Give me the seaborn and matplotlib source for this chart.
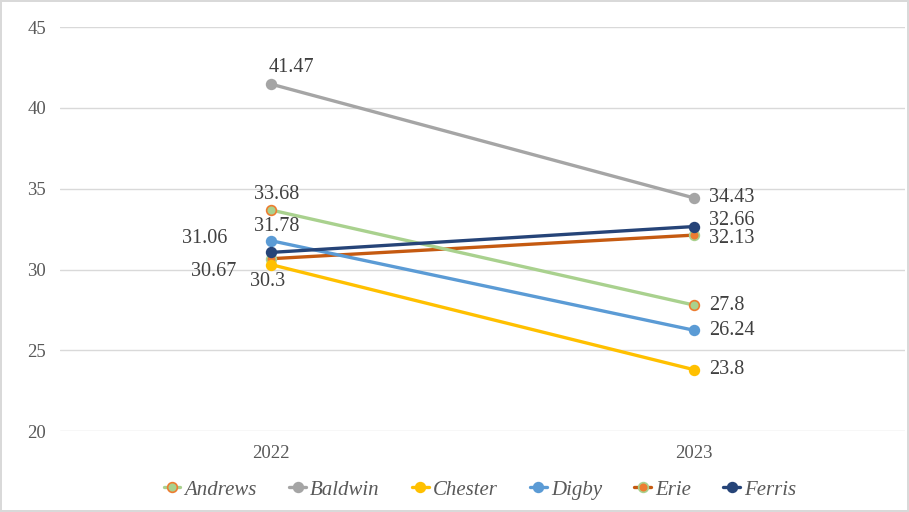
import numpy as np
import pandas as pd
import seaborn as sns
import matplotlib.pyplot as plt
from matplotlib.lines import Line2D

years = ["2022", "2023"]
teams = ["Andrews", "Baldwin", "Chester", "Digby", "Erie", "Ferris"]
andrews = [33.68, 27.8]
baldwin = [41.47, 34.43]
chester = [30.3, 23.8]
digby = [31.78, 26.24]
erie = [30.67, 32.13]
ferris = [31.06, 32.66]

line_colors = {"Andrews": "#A9D18E", "Baldwin": "#A5A5A5", "Chester": "#FFC000",
               "Digby": "#5B9BD5", "Erie": "#C55A11", "Ferris": "#264478"}
face_colors = {"Andrews": "#A9D18E", "Baldwin": "#A5A5A5", "Chester": "#FFC000",
               "Digby": "#5B9BD5", "Erie": "#ED7D31", "Ferris": "#264478"}
edge_colors = {"Andrews": "#ED7D31", "Baldwin": "#A5A5A5", "Chester": "#FFC000",
               "Digby": "#5B9BD5", "Erie": "#A9D18E", "Ferris": "#264478"}

df = pd.DataFrame({
    "year": years * 6,
    "team": np.repeat(teams, 2),
    "value": andrews + baldwin + chester + digby + erie + ferris,
})

# label offsets in pixels (2022 point, 2023 point)
offsets = {
    "Andrews": [(5, 16, "center"), (15, 0, "left")],
    "Baldwin": [(-3, 17, "left"), (15, 0, "left")],
    "Chester": [(-4, -17, "center"), (15, 0, "left")],
    "Digby": [(5, 14, "center"), (15, 0, "left")],
    "Erie": [(-58, -13, "center"), (15, -3, "left")],
    "Ferris": [(-67, 14, "center"), (15, 6, "left")],
}

sns.set_style("white")
plt.rcParams["font.family"] = ["Liberation Serif", "DejaVu Serif"]

fig = plt.figure(figsize=(9.09, 5.12), dpi=100)
fig.patch.set_edgecolor("#D9D9D9")
fig.patch.set_linewidth(1.5)
ax = fig.add_axes([0.066, 0.158, 0.93, 0.789])

ax.yaxis.grid(True, color="#D9D9D9", linewidth=1)
ax.set_axisbelow(True)

order = ["Erie", "Andrews", "Chester", "Digby", "Ferris", "Baldwin"]
for t in order:
    sub = df[df["team"] == t]
    sns.lineplot(data=sub, x="year", y="value", ax=ax, color=line_colors[t],
                 linewidth=2.4, marker="o", markersize=7,
                 markerfacecolor=face_colors[t], markeredgecolor=edge_colors[t],
                 markeredgewidth=1.2, legend=False)
    for i, (x, v) in enumerate(zip(sub["year"], sub["value"])):
        dx, dy, ha = offsets[t][i]
        ax.annotate(f"{v:g}", (i, v), xytext=(dx, dy), textcoords="offset pixels",
                    ha=ha, va="center", fontsize=14.5, color="#404040")

ax.set_xlim(-0.5, 1.5)
ax.set_ylim(20, 45)
ax.set_yticks([20, 25, 30, 35, 40, 45])
ax.set_xticks([0, 1])
ax.set_xticklabels(years)
ax.set_xlabel("")
ax.set_ylabel("")
ax.tick_params(axis="both", length=0, labelsize=13.5, labelcolor="#595959")
ax.tick_params(axis="y", pad=10)
ax.tick_params(axis="x", pad=10)
for s in ax.spines.values():
    s.set_visible(False)

handles = [Line2D([0], [0], color=line_colors[t], linewidth=2.4, marker="o",
                  markersize=7, markerfacecolor=face_colors[t],
                  markeredgecolor=edge_colors[t], markeredgewidth=1.2)
           for t in teams]
fig.legend(handles, teams, loc="center", bbox_to_anchor=(0.528, 0.043), ncol=6,
           frameon=False, handlelength=0.8, handletextpad=0.2, columnspacing=1.55,
           prop={"family": "Liberation Serif", "style": "italic", "size": 15},
           labelcolor="#595959")

fig.savefig("out.png", dpi=100)
